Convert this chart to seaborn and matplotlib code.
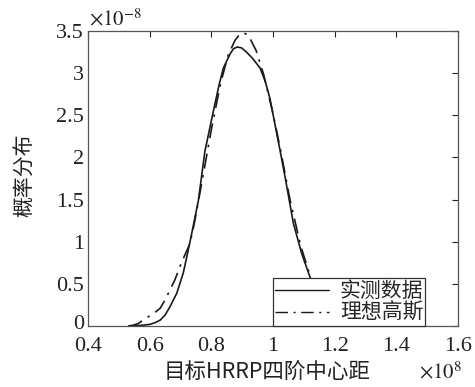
import numpy as np
import pandas as pd
import matplotlib
matplotlib.use("Agg")
import matplotlib.pyplot as plt
import matplotlib.transforms as mtransforms
import seaborn as sns
from matplotlib.lines import Line2D

# Measured data (x in 1e8 units, y in 1e-8 units)
meas_x = [0.53, 0.56, 0.58, 0.601, 0.618, 0.634, 0.650, 0.666, 0.688, 0.709, 0.725, 0.741, 0.758,
          0.779, 0.806, 0.825, 0.839, 0.861, 0.872, 0.884, 0.898, 0.914, 0.935, 0.958, 0.975,
          0.99, 1.006, 1.023, 1.039, 1.066, 1.093, 1.12, 1.15, 1.18, 1.22, 1.26, 1.30]
meas_y = [0.0, 0.005, 0.01, 0.02, 0.04, 0.07, 0.13, 0.23, 0.39, 0.63, 0.90, 1.18, 1.49,
          2.07, 2.54, 2.86, 3.06, 3.23, 3.29, 3.31, 3.30, 3.25, 3.17, 3.06, 2.90,
          2.70, 2.40, 2.08, 1.77, 1.22, 0.86, 0.58, 0.35, 0.19, 0.07, 0.02, 0.0]
# Ideal Gaussian
gauss_x = [0.53, 0.547, 0.563, 0.579, 0.60, 0.617, 0.634, 0.650, 0.666, 0.682, 0.704, 0.731,
           0.747, 0.77, 0.80, 0.83, 0.855, 0.877, 0.892, 0.904, 0.92, 0.945, 0.97, 1.0,
           1.025, 1.055, 1.09, 1.125, 1.16, 1.20, 1.25, 1.30]
gauss_y = [0.0, 0.01, 0.03, 0.07, 0.12, 0.16, 0.21, 0.31, 0.43, 0.55, 0.76, 0.98,
           1.26, 1.72, 2.33, 2.88, 3.22, 3.39, 3.46, 3.48, 3.45, 3.27, 2.98, 2.52,
           2.08, 1.50, 0.95, 0.54, 0.27, 0.10, 0.03, 0.01]

series_names = ["实测数据", "理想高斯"]
x_ticks = [0.4, 0.6, 0.8, 1.0, 1.2, 1.4, 1.6]
x_tick_labels = ["0.4", "0.6", "0.8", "1", "1.2", "1.4", "1.6"]
y_ticks = [0, 0.5, 1, 1.5, 2, 2.5, 3, 3.5]
y_tick_labels = ["0", "0.5", "1", "1.5", "2", "2.5", "3", "3.5"]

df = pd.concat([
    pd.DataFrame({"x": meas_x, "y": meas_y, "s": series_names[0]}),
    pd.DataFrame({"x": gauss_x, "y": gauss_y, "s": series_names[1]}),
])

sns.set_style("white")
plt.rcParams["font.family"] = ["Liberation Serif", "Noto Sans CJK SC"]
plt.rcParams["mathtext.fontset"] = "stix"

fig = plt.figure(figsize=(4.75, 3.87), dpi=100)
ax = fig.add_axes([0.1853, 0.1576, 0.9642 - 0.1853, 0.9199 - 0.1576])

sns.lineplot(data=df, x="x", y="y", hue="s", style="s", sort=False,
             palette=["#1a1a1a", "#1a1a1a"],
             dashes=[(1, 0), (9, 4, 1.5, 4)],
             linewidth=1.2, ax=ax, legend=False, estimator=None)

ax.set_xlim(0.4, 1.6)
ax.set_ylim(0, 3.5)
ax.set_xticks(x_ticks)
ax.set_xticklabels(x_tick_labels)
ax.set_yticks(y_ticks)
ax.set_yticklabels(y_tick_labels)
ax.tick_params(direction="in", top=True, right=True, length=4, width=0.8,
               labelsize=16, colors="#222222")
ax.tick_params(axis="x", pad=8)
ax.tick_params(axis="y", pad=3)
for sp in ax.spines.values():
    sp.set_color("#555555")
    sp.set_linewidth(0.9)
ax.set_xlabel("")
ax.set_ylabel("")

# nudge the y "0" label up slightly so it does not collide with "0.4"
zero_lbl = ax.get_yticklabels()[0]
zero_lbl.set_transform(zero_lbl.get_transform() +
                       mtransforms.ScaledTranslation(0, 3 / 72, fig.dpi_scale_trans))

fig.text(0.562, 0.036, "目标HRRP四阶中心距", family=["Noto Sans CJK SC"], fontsize=15.5,
         color="#222222", ha="center", va="center")
fig.text(0.052, 0.548, "概率分布", family=["Noto Sans CJK SC"], fontsize=15,
         color="#222222", ha="center", va="center", rotation=90)

fig.text(0.188, 0.935, r"$\times10^{-8}$", fontsize=15, color="#222222")
fig.text(0.882, 0.022, r"$\times10^{8}$", fontsize=15, color="#222222")

handles = [Line2D([], [], color="#1a1a1a", lw=1.0),
           Line2D([], [], color="#1a1a1a", lw=1.0, dashes=(9, 4, 1.5, 4))]
leg = ax.legend(handles, series_names, loc="lower right",
                bbox_to_anchor=(0.912, 0.0), prop={"family": "Noto Sans CJK SC", "size": 15},
                frameon=True, fancybox=False, framealpha=1, edgecolor="#333333",
                borderpad=0.1, labelspacing=0.0, handlelength=2.6, handletextpad=0.5,
                borderaxespad=0.0)
leg.get_frame().set_linewidth(0.9)

fig.savefig("out.png", dpi=100)
